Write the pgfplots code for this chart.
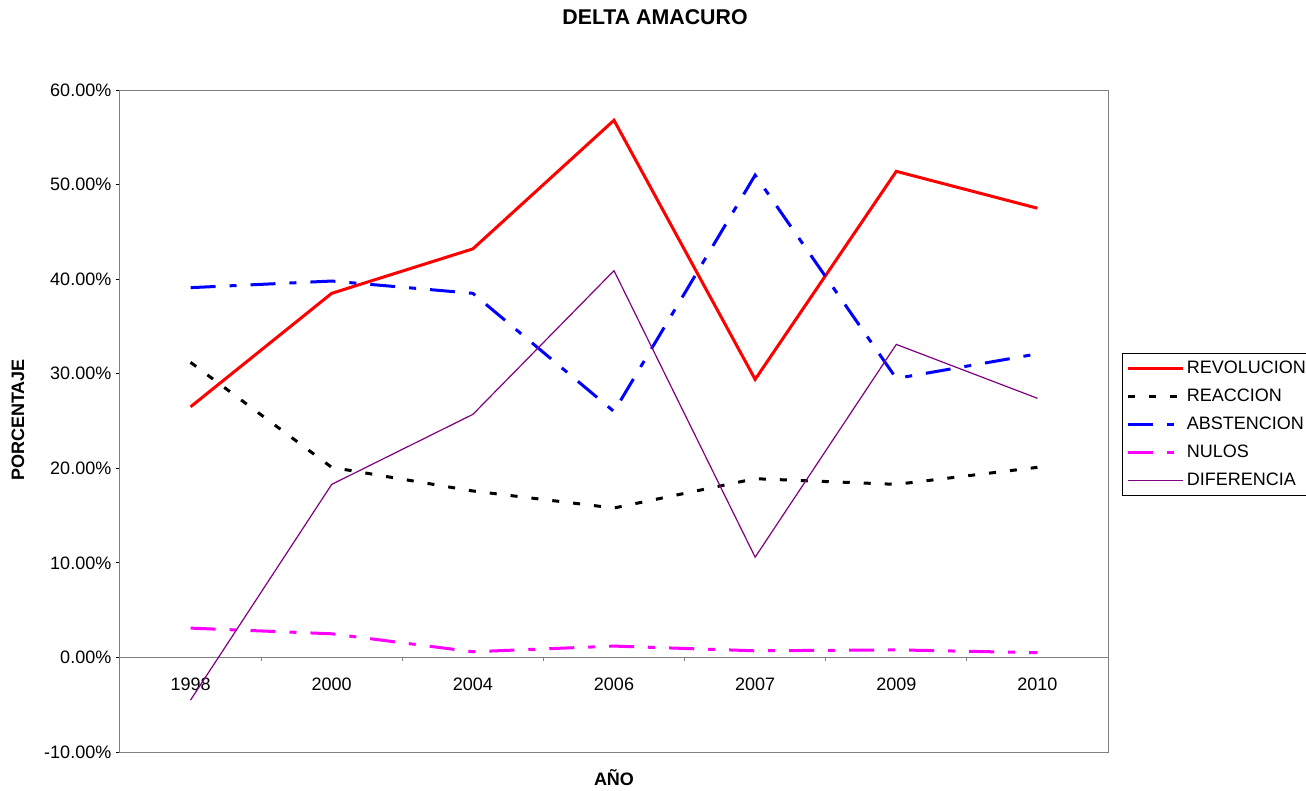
\documentclass[border=0pt]{standalone}
\usepackage{pgfplots}
\pgfplotsset{compat=1.18}
\usepackage{fontspec}
\setmainfont{Liberation Sans}
\definecolor{revol}{RGB}{255,0,0}
\definecolor{abst}{RGB}{0,0,255}
\definecolor{nulos}{RGB}{255,0,255}
\definecolor{difer}{RGB}{128,0,128}
\definecolor{axgray}{RGB}{128,128,128}
\begin{document}
\begin{tikzpicture}
\useasboundingbox (-90pt,-28.5pt) rectangle (889.5pt,564pt);
\begin{axis}[
  at={(0,0)}, anchor=south west,
  scale only axis, width=741pt, height=496.5pt,
  xmin=-0.5, xmax=6.5, ymin=-10, ymax=60,
  axis x line*=middle, axis y line*=left,
  x axis line style={axgray, line width=1pt},
  y axis line style={black, line width=0.75pt},
  tick align=outside,
  major tick length=3pt,
  ytick={-10,0,...,60},
  yticklabel={\pgfmathprintnumber[fixed,fixed zerofill,precision=2]{\tick}\%},
  /pgf/number format/assume math mode=true,
  y tick style={black, line width=0.75pt},
  xtick={-0.5,0.5,...,6.5},
  xticklabels={},
  x tick style={axgray, line width=0.75pt},
  extra x ticks={0,1,2,3,4,5,6},
  extra x tick labels={1998,2000,2004,2006,2007,2009,2010},
  extra x tick style={major tick length=0pt, tick label style={yshift=-12pt}},
  tick label style={font=\fontsize{13.5}{16}\selectfont},
  title={DELTA AMACURO},
  title style={at={(rel axis cs:0.5415,1.098)}, anchor=center, font=\fontsize{16}{19}\selectfont\bfseries},
  xlabel={AÑO},
  xlabel style={at={(rel axis cs:0.5,-0.038)}, anchor=center, font=\fontsize{13.5}{16}\selectfont\bfseries},
  ylabel={PORCENTAJE},
  ylabel style={at={(rel axis cs:-0.1032,0.5015)}, anchor=center, font=\fontsize{13.5}{16}\selectfont\bfseries},
  legend style={at={(rel axis cs:1.0142,0.603)}, anchor=north west, draw=black, line width=0.75pt,
    font=\fontsize{13.5}{16}\selectfont, row sep=6pt, inner xsep=3pt, inner ysep=4pt,
    cells={anchor=west}},
  legend image code/.code={\draw[#1] (0pt,0pt) -- (41pt,0pt);},
  clip=false,
]
\draw[axgray, line width=0.75pt] (rel axis cs:0,0) rectangle (rel axis cs:1,1);
\addplot[revol, line width=2.25pt, line join=miter] coordinates {
(0,26.5) (1,38.5) (2,43.2) (3,56.8) (4,29.4) (5,51.4) (6,47.5)};
\addlegendentry{REVOLUCION}
\addplot[black, line width=2.25pt, dash pattern=on 5.25pt off 10.5pt] coordinates {
(0,31.2) (1,20.1) (2,17.6) (3,15.8) (4,18.9) (5,18.3) (6,20.1)};
\addlegendentry{REACCION}
\addplot[abst, line width=2.25pt, dash pattern=on 18.75pt off 10.5pt on 5.25pt off 10.5pt] coordinates {
(0,39.1) (1,39.8) (2,38.5) (3,26.0) (4,51.0) (5,29.5) (6,32.1)};
\addlegendentry{ABSTENCION}
\addplot[nulos, line width=2.25pt, dash pattern=on 18.75pt off 10.5pt on 5.25pt off 10.5pt] coordinates {
(0,3.1) (1,2.5) (2,0.6) (3,1.2) (4,0.7) (5,0.8) (6,0.5)};
\addlegendentry{NULOS}
\addplot[difer, line width=0.9pt] coordinates {
(0,-4.5) (1,18.3) (2,25.7) (3,40.9) (4,10.6) (5,33.1) (6,27.4)};
\addlegendentry{DIFERENCIA}
\end{axis}
\end{tikzpicture}
\end{document}
